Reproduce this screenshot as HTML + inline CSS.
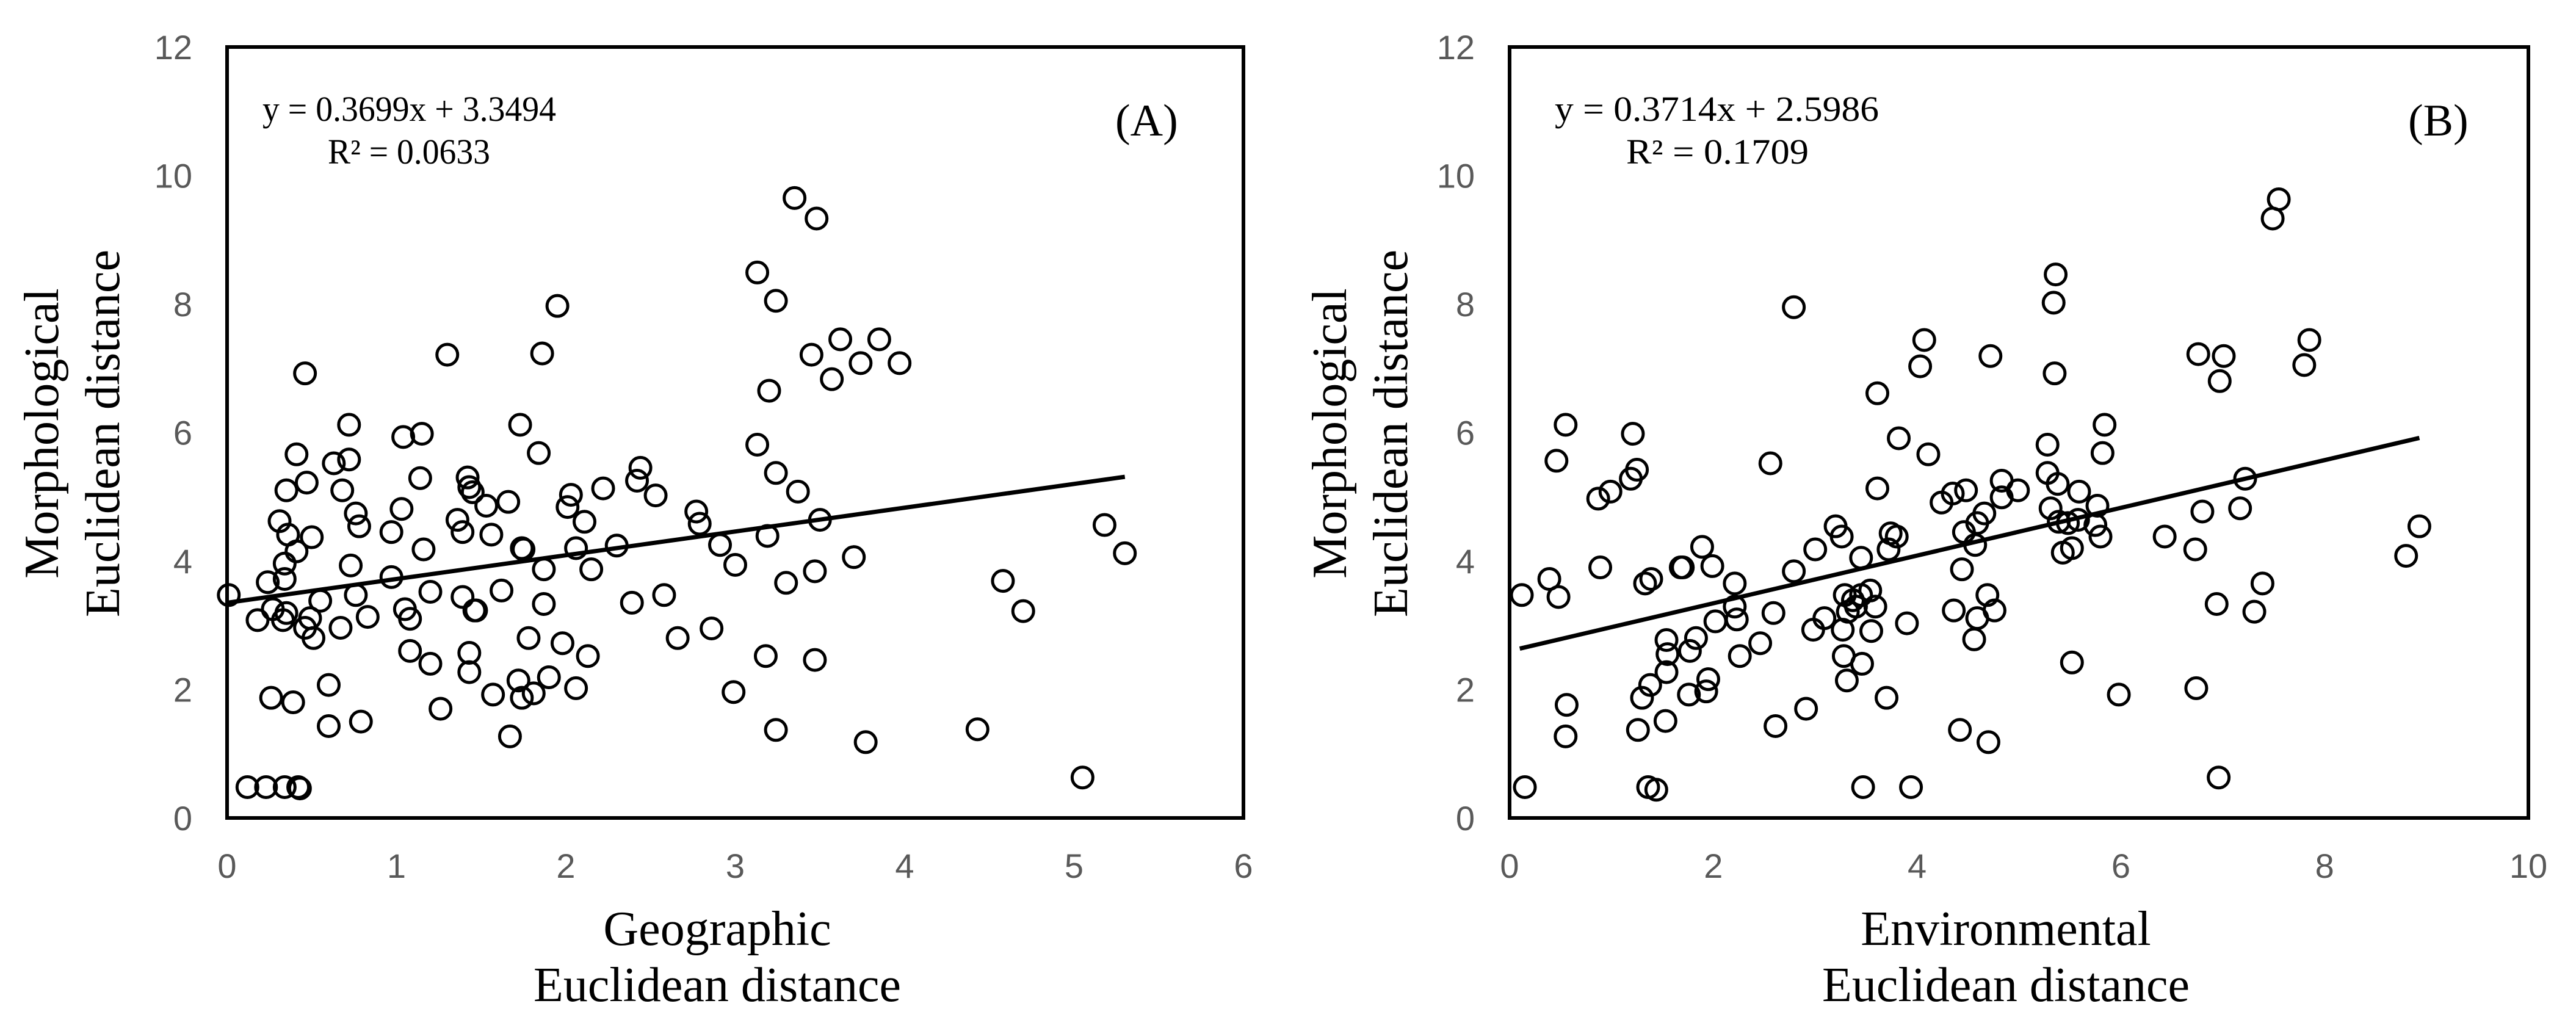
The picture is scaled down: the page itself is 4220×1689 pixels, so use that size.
<!DOCTYPE html>
<html><head><meta charset="utf-8"><style>
html,body{margin:0;padding:0;background:#fff;}
svg{display:block;}
.tick{font-family:"Liberation Sans",sans-serif;font-size:56px;fill:#595959;}
.title{font-family:"Liberation Serif",serif;font-size:80px;fill:#000;}
.eq{font-family:"Liberation Serif",serif;font-size:58px;fill:#000;}
.lab{font-family:"Liberation Serif",serif;font-size:74px;fill:#000;}
</style></head><body>
<svg id="chart" width="4220" height="1689" viewBox="0 0 4220 1689" xmlns="http://www.w3.org/2000/svg">
<g id="pa"></g>
<g id="pb"></g>
</svg>
<script>
const geoX=[0.01,0.12,0.23,0.34,0.42,0.43,0.18,0.24,0.26,0.27,0.31,0.33,0.34,0.34,0.35,0.35,0.36,0.39,0.41,0.41,0.46,0.47,0.46,0.49,0.51,0.50,0.55,0.60,0.60,0.63,0.67,0.68,0.72,0.72,0.73,0.76,0.76,0.78,0.79,0.83,0.97,0.97,1.03,1.04,1.05,1.08,1.08,1.14,1.15,1.16,1.20,1.20,1.26,1.30,1.36,1.39,1.39,1.42,1.43,1.43,1.43,1.45,1.46,1.47,1.53,1.56,1.57,1.62,1.66,1.67,1.72,1.73,1.74,1.74,1.75,1.78,1.81,1.84,1.86,1.87,1.87,1.90,1.95,1.98,2.01,2.03,2.06,2.06,2.11,2.13,2.15,2.22,2.30,2.39,2.42,2.44,2.53,2.58,2.66,2.77,2.79,2.86,2.91,3.00,2.99,3.13,3.13,3.18,3.19,3.20,3.24,3.24,3.24,3.30,3.35,3.37,3.45,3.47,3.47,3.48,3.50,3.57,3.62,3.70,3.74,3.77,3.85,3.97,4.43,4.58,4.70,5.05,5.18,5.30];
const geoY=[3.47,0.48,0.48,0.48,0.48,0.46,3.08,3.67,1.87,3.25,4.62,3.08,3.96,3.72,5.10,3.19,4.41,1.80,5.66,4.15,6.92,5.22,2.96,3.11,2.80,4.37,3.38,2.07,1.43,5.52,2.96,5.10,5.58,6.12,3.93,3.47,4.74,4.54,1.50,3.13,4.45,3.75,4.81,5.93,3.25,3.10,2.60,5.29,5.98,4.18,3.52,2.40,1.70,7.21,4.64,4.45,3.44,5.30,5.15,2.57,2.27,5.07,3.23,3.23,4.86,4.41,1.92,3.54,4.92,1.27,2.14,6.12,1.87,4.20,4.18,2.80,1.94,5.68,7.23,3.33,3.87,2.19,7.97,2.72,4.84,5.03,2.02,4.20,4.61,2.52,3.87,5.13,4.24,3.35,5.25,5.45,5.02,3.47,2.80,4.77,4.58,2.95,4.25,3.94,1.96,5.81,8.49,2.52,4.39,6.65,5.37,8.05,1.37,3.66,9.65,5.08,7.21,2.46,3.84,9.33,4.64,6.83,7.45,4.06,7.08,1.18,7.45,7.08,1.38,3.69,3.22,0.63,4.56,4.12];
const envX=[0.12,0.15,0.39,0.48,0.46,0.55,0.56,0.55,0.87,0.89,0.99,1.21,1.19,1.25,1.26,1.30,1.33,1.39,1.38,1.36,1.44,1.53,1.54,1.54,1.55,1.68,1.70,1.76,1.77,1.83,1.89,1.93,1.95,1.99,2.02,2.21,2.21,2.23,2.26,2.46,2.56,2.59,2.61,2.79,2.79,2.91,2.98,3.00,3.09,3.20,3.26,3.27,3.28,3.29,3.31,3.32,3.37,3.40,3.45,3.46,3.45,3.47,3.54,3.55,3.59,3.61,3.61,3.70,3.72,3.74,3.80,3.82,3.90,3.94,4.03,4.07,4.11,4.24,4.35,4.36,4.42,4.44,4.46,4.48,4.56,4.57,4.59,4.59,4.66,4.69,4.70,4.72,4.76,4.83,4.83,4.99,5.28,5.28,5.31,5.34,5.35,5.36,5.38,5.39,5.43,5.48,5.52,5.52,5.58,5.59,5.77,5.75,5.80,5.82,5.84,5.98,6.43,6.73,6.74,6.76,6.80,6.94,6.96,6.97,7.01,7.17,7.22,7.31,7.39,7.49,7.55,7.80,7.85,8.80,8.93];
const envY=[3.47,0.48,3.72,3.44,5.56,6.12,1.76,1.27,4.97,3.90,5.08,5.98,5.28,5.42,1.37,1.87,3.65,3.72,2.07,0.48,0.44,1.51,2.27,2.77,2.55,3.90,3.90,1.92,2.60,2.80,4.22,1.97,2.16,3.92,3.06,3.65,3.29,3.09,2.52,2.72,5.52,3.19,1.43,7.95,3.84,1.70,2.93,4.18,3.11,4.54,4.38,2.93,2.52,3.47,2.14,3.21,3.39,3.29,3.47,2.40,4.05,0.48,3.54,2.91,3.29,6.61,5.13,1.87,4.18,4.43,4.38,5.91,3.03,0.48,7.03,7.44,5.66,4.91,5.05,3.23,1.37,3.87,4.45,5.10,2.78,4.25,3.11,4.59,4.74,3.47,1.18,7.19,3.23,4.99,5.25,5.10,5.81,5.37,4.82,8.02,6.92,8.46,5.20,4.61,4.13,4.59,4.20,2.42,4.64,5.08,4.86,4.56,4.38,5.68,6.12,1.92,4.38,4.18,2.02,7.22,4.77,3.33,0.63,6.80,7.19,4.82,5.28,3.21,3.65,9.33,9.63,7.05,7.44,4.08,4.54];
const yTicks=[0,2,4,6,8,10,12];
const xTicksA=[0,1,2,3,4,5,6];
const xTicksB=[0,2,4,6,8,10];
const fitA=[0.3699,3.3494,0,5.3];
const fitB=[0.3714,2.5986,0.1,8.93];

const NS="http://www.w3.org/2000/svg";
function mk(parent,tag,attrs,text){const e=document.createElementNS(NS,tag);for(const k in attrs)e.setAttribute(k,attrs[k]);if(text!==undefined)e.textContent=text;parent.appendChild(e);return e;}

function panel(g,cfg){
  const sx=v=>cfg.x0+(v-0)/cfg.xmax*(cfg.x1-cfg.x0);
  const sy=v=>cfg.yb-(v/12)*(cfg.yb-cfg.yt);
  yTicks.forEach(t=>{
    const e=mk(g,'text',{x:cfg.x0-57,y:sy(t)+20,'text-anchor':'end',class:'tick'},String(t));
    
    
  });
  cfg.xt.forEach(t=>{
    const e=mk(g,'text',{x:sx(t),y:cfg.yb+98,'text-anchor':'middle',class:'tick'},String(t));
    
    
  });
  cfg.X.forEach((xv,i)=>{
    const c=mk(g,'circle',{cx:sx(xv),cy:sy(cfg.Y[i]),r:17,fill:'none',stroke:'#000','stroke-width':5});
    
    
  });
  const f=cfg.fit;
  const l=mk(g,'line',{x1:sx(f[2]),y1:sy(f[0]*f[2]+f[1]),x2:sx(f[3]),y2:sy(f[0]*f[3]+f[1]),stroke:'#000','stroke-width':7});
  
  
  const r=mk(g,'rect',{x:cfg.x0,y:cfg.yt,width:cfg.x1-cfg.x0,height:cfg.yb-cfg.yt,fill:'none',stroke:'#000','stroke-width':6});
  
  
  const e1=mk(g,'text',{x:cfg.eqx,y:198,class:'eq',textLength:cfg.eqw,lengthAdjust:'spacingAndGlyphs'},cfg.eq);
  
  
  const e2=mk(g,'text',{x:cfg.r2x,y:268,class:'eq',textLength:cfg.r2w,lengthAdjust:'spacingAndGlyphs'},cfg.r2);
  
  
  const pl=mk(g,'text',{x:cfg.labx,y:222,class:'lab'},cfg.lab);
  
  
  const yt=mk(g,'text',{transform:`translate(${cfg.ytx},710) rotate(-90)`,'text-anchor':'middle',class:'title'});
  
  
  mk(yt,'tspan',{x:0,y:0},'Morphological');
  mk(yt,'tspan',{x:0,y:100},'Euclidean distance');
  const xt=mk(g,'text',{'text-anchor':'middle',class:'title'});
  
  
  mk(xt,'tspan',{x:cfg.xtx,y:1548},cfg.xtitle);
  mk(xt,'tspan',{x:cfg.xtx,y:1640},'Euclidean distance');
}
panel(document.getElementById('pa'),{x0:372,x1:2037,xmax:6,yt:77,yb:1340,X:geoX,Y:geoY,xt:xTicksA,fit:fitA,
  eq:'y = 0.3699x + 3.3494',eqx:430,eqw:481,r2:'R² = 0.0633',r2x:537,r2w:266,lab:'(A)',labx:1827,
  ytx:95,xtx:1175,xtitle:'Geographic'});
panel(document.getElementById('pb'),{x0:2473,x1:4142,xmax:10,yt:77,yb:1340,X:envX,Y:envY,xt:xTicksB,fit:fitB,
  eq:'y = 0.3714x + 2.5986',eqx:2547,eqw:531,r2:'R² = 0.1709',r2x:2664,r2w:299,lab:'(B)',labx:3945,
  ytx:2205,xtx:3286,xtitle:'Environmental'});
</script>
</body></html>
